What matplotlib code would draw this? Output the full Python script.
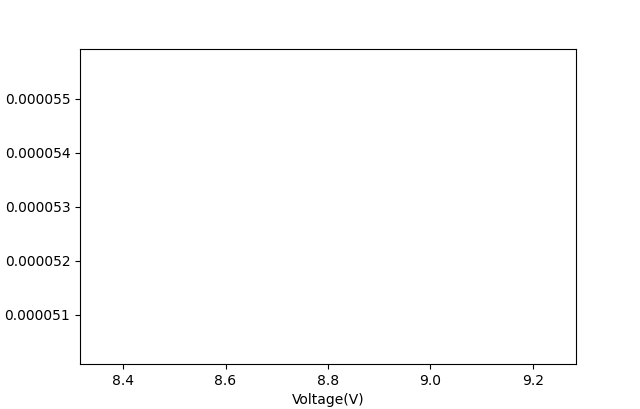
import matplotlib
matplotlib.use("Agg")
import matplotlib.pyplot as plt

# a single measurement, so the line draws nothing visible
voltage = [8.8]
current = [5.3e-5]

fig, ax = plt.subplots(figsize=(6.4, 4.09), dpi=100)
ax.plot(voltage, current)
ax.ticklabel_format(axis='y', style='plain', useOffset=False)
ax.set_xlabel('Voltage(V)')
fig.savefig('out.png', dpi=100)
